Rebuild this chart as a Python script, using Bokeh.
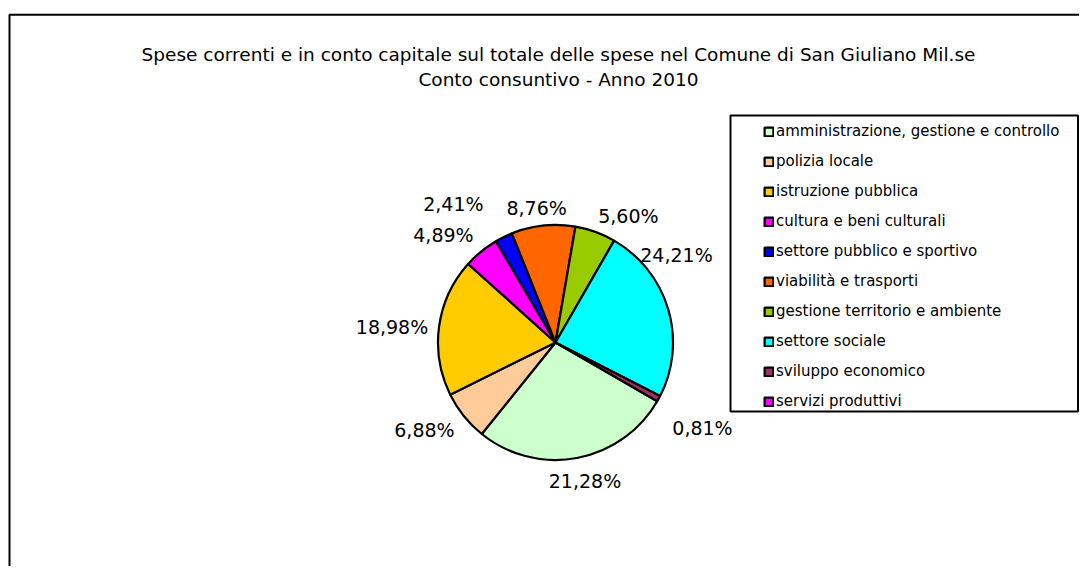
import numpy as np
from bokeh.plotting import figure
from bokeh.models import (Range1d, ColumnDataSource, Legend, LegendItem,
                          BoxAnnotation, Label)
from bokeh.embed import file_html
from bokeh.resources import INLINE
from bokeh.core.properties import value

# ---------------- data ----------------
categories = [
    "amministrazione, gestione e controllo",
    "polizia locale",
    "istruzione pubblica",
    "cultura e beni culturali",
    "settore pubblico e sportivo",
    "viabilità e trasporti",
    "gestione territorio e ambiente",
    "settore sociale",
    "sviluppo economico",
    "servizi produttivi",
]
# slice shares as drawn in the picture (percent of the total)
shares = [27.46, 6.88, 18.98, 4.89, 2.41, 8.76, 5.60, 24.21, 0.81, 0.0]
# percentage labels as printed on the chart
pct_labels = ["21,28%", "6,88%", "18,98%", "4,89%", "2,41%",
              "8,76%", "5,60%", "24,21%", "0,81%", ""]
title_lines = [
    "Spese correnti e in conto capitale sul totale delle spese nel Comune di San Giuliano Mil.se",
    "Conto consuntivo - Anno 2010",
]

# ---------------- styles / layout ----------------
colors = ["#CCFFCC", "#FFCC99", "#FFCC00", "#FF00FF", "#0000FF",
          "#FF6600", "#99CC00", "#00FFFF", "#993366", "#FF00FF"]
label_nudge_deg = [-1.4, 4.9, -2.4, -7.2, -10.4, -2.0, 10.3, -19.2, 1.8, 0.0]
label_dist = [142.1, 157.8, 164.2, 154.6, 171.6, 135.8, 145.2, 149.0, 170.3, 0.0]
first_slice_deg = 120.0

W, H = 1079, 566
CX, CY, R = 555.0, 224.0, 117.5
FONT = "DejaVu Sans"

p = figure(width=W, height=H, x_range=Range1d(0, W), y_range=Range1d(0, H),
           output_backend="svg", toolbar_location=None, min_border=0,
           x_axis_type=None, y_axis_type=None)
p.grid.visible = False
p.outline_line_color = None
p.background_fill_color = "white"
p.border_fill_color = "white"

# outer chart frame (right/bottom edges lie outside the window)
p.add_layout(BoxAnnotation(left=9, top=551.7, right=W + 40, bottom=-40,
                           fill_alpha=0, line_color="black", line_alpha=1,
                           line_width=2))

# ---------------- pie ----------------
frac = np.array(shares) / np.sum(shares)
cw_start = first_slice_deg + 360.0 * np.concatenate([[0.0], np.cumsum(frac)[:-1]])
cw_end = cw_start + 360.0 * frac
cw_mid = (cw_start + cw_end) / 2.0

keep = [i for i, s in enumerate(shares) if s > 0]
src = ColumnDataSource(dict(
    cat=[categories[i] for i in keep], color=[colors[i] for i in keep],
    start=np.radians(90.0 - cw_start[keep]), end=np.radians(90.0 - cw_end[keep]),
))
wr = p.wedge(x=CX, y=CY, radius=R, radius_units="screen",
             start_angle="start", end_angle="end", direction="clock",
             fill_color="color", line_color="black", line_width=2.2, source=src)

# percentage labels
theta = np.radians(cw_mid + np.array(label_nudge_deg))
d = np.array(label_dist)
lx = CX + d * np.sin(theta)
ly = CY + d * np.cos(theta) + 0.5
lab_src = ColumnDataSource(dict(x=lx[keep], y=ly[keep],
                                t=[pct_labels[i] for i in keep]))
p.text(x="x", y="y", text="t", source=lab_src, text_align="center",
       text_baseline="alphabetic", text_font=value(FONT),
       text_font_size="19px", text_color="black")

# title
for i, line in enumerate(title_lines):
    p.add_layout(Label(x=558, y=512.5 - 25.5 * i, text=line, text_align="center",
                       text_baseline="alphabetic", text_font=FONT,
                       text_font_size="18.5px", text_color="black"))

# ---------------- legend ----------------
p.add_layout(BoxAnnotation(left=730, right=1077.5, top=451, bottom=155,
                           fill_color="white", fill_alpha=1,
                           line_color="black", line_alpha=1, line_width=2,
                           level="underlay"))
items = []
for i, name in enumerate(categories):
    if i in keep:
        items.append(LegendItem(label=name, renderers=[wr], index=keep.index(i)))
    else:
        # zero-size category: legend swatch only (degenerate, off-canvas quad)
        q = p.quad(left=[-50], right=[-50], top=[-50], bottom=[-50],
                   fill_color=colors[i], line_color="black", line_width=2.2)
        items.append(LegendItem(label=name, renderers=[q], index=0))
legend = Legend(items=items, location=(763, 155), padding=0, margin=0,
                spacing=10, label_height=20, glyph_height=11, glyph_width=11,
                label_standoff=2, border_line_color=None,
                background_fill_alpha=0, label_text_font=FONT,
                label_text_font_size="15px", label_text_color="black")
p.add_layout(legend)

open("out.html", "w").write(file_html(p, INLINE))
